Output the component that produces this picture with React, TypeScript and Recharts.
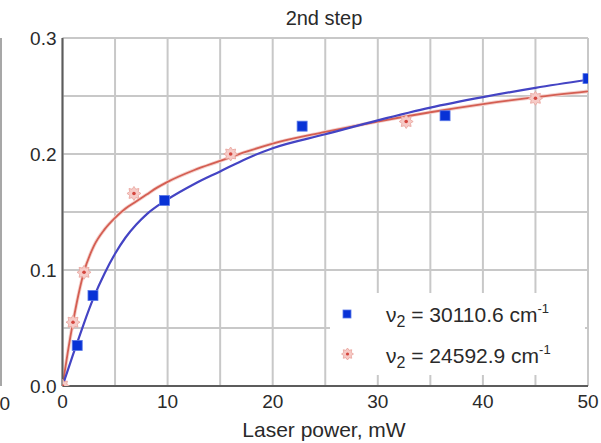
import React from 'react';
import { ComposedChart, Line, Scatter, XAxis, YAxis, CartesianGrid } from 'recharts';

const xTicks = [0, 5, 10, 15, 20, 25, 30, 35, 40, 45, 50];
const yTicks = [0, 0.05, 0.1, 0.15, 0.2, 0.25, 0.3];

const blueX = [1.4, 2.9, 9.7, 22.8, 36.4, 50];
const blueY = [0.035, 0.078, 0.16, 0.224, 0.233, 0.265];
const redX = [0, 1.0, 2.05, 6.8, 16, 32.7, 45];
const redY = [0, 0.055, 0.098, 0.166, 0.2, 0.228, 0.248];

const fitX = [0, 0.5, 1, 1.5, 2, 3, 4, 5, 6, 7, 8, 9, 10, 12.5, 15, 17.5, 20, 25, 30, 35, 40, 45, 50];
const blueFitY = [0, 0.0135, 0.027, 0.04, 0.053, 0.077, 0.097, 0.114, 0.128, 0.139, 0.148, 0.155, 0.161, 0.174, 0.185, 0.196, 0.205, 0.217, 0.229, 0.24, 0.249, 0.257, 0.264];
const redFitY = [0, 0.029, 0.055, 0.078, 0.097, 0.121, 0.135, 0.145, 0.153, 0.159, 0.165, 0.171, 0.176, 0.186, 0.194, 0.202, 0.209, 0.219, 0.228, 0.236, 0.243, 0.249, 0.254];

const legendLabels = ['30110.6', '24592.9'];

const bluePts = blueX.map((x, i) => ({ x, y: blueY[i] }));
const redPts = redX.map((x, i) => ({ x, y: redY[i] }));
const blueFit = fitX.map((x, i) => ({ x, y: blueFitY[i] }));
const redFit = fitX.map((x, i) => ({ x, y: redFitY[i] }));

const FONT = '"Liberation Sans", Arial, Helvetica, sans-serif';
const TXT = '#2a2a2a';
const BLUE = '#0832d6';

const starPoints = (cx: number, cy: number, ro: number, ri: number, n: number) => {
  const pts: string[] = [];
  for (let k = 0; k < n * 2; k++) {
    const r = k % 2 === 0 ? ro : ri;
    const a = (Math.PI * k) / n - Math.PI / 2;
    pts.push(`${cx + r * Math.cos(a)},${cy + r * Math.sin(a)}`);
  }
  return pts.join(' ');
};

const BlueSquare = (props: any) => {
  const { cx, cy } = props;
  if (cx == null || cy == null) return null;
  return <rect x={cx - 5} y={cy - 5} width={10} height={10} fill={BLUE} stroke="#5a78e8" strokeWidth={0.8} />;
};

const RedStar = (props: any) => {
  const { cx, cy } = props;
  if (cx == null || cy == null) return null;
  return (
    <g>
      <polygon points={starPoints(cx, cy, 7, 4.6, 8)} fill="#f6cbc7" stroke="#e9a29b" strokeWidth={0.8} />
      <circle cx={cx} cy={cy} r={1.8} fill="#d4463e" />
    </g>
  );
};

const fmtX = (v: number) => (v % 10 === 0 ? String(v) : '');
const fmtY = (v: number) => (Math.round(v * 100) % 10 === 0 ? v.toFixed(1) : '');

const tickStyle = { fill: TXT, fontSize: 19, fontFamily: FONT };
const frame = { stroke: '#5c5c5c', strokeWidth: 2 };

export default function App() {
  return (
    <div style={{ position: 'absolute', left: 0, top: 0, width: 601, height: 443, background: '#fff' }}>
      <ComposedChart width={601} height={443} margin={{ top: 38, right: 13, bottom: 0, left: 0 }}>
        <CartesianGrid stroke="#c8c8c8" strokeWidth={2} />
        <XAxis
          type="number"
          dataKey="x"
          domain={[0, 50]}
          ticks={xTicks}
          tickFormatter={fmtX}
          height={57}
          tickSize={0}
          tickMargin={9}
          tickLine={false}
          axisLine={frame}
          tick={tickStyle}
          allowDataOverflow
        />
        <XAxis xAxisId="top" orientation="top" type="number" domain={[0, 50]} height={0} tick={false} tickLine={false} axisLine={frame} />
        <YAxis
          type="number"
          dataKey="y"
          domain={[0, 0.3]}
          ticks={yTicks}
          tickFormatter={fmtY}
          width={62.5}
          tickSize={0}
          tickMargin={6}
          tickLine={false}
          axisLine={frame}
          tick={tickStyle}
          allowDataOverflow
        />
        <YAxis yAxisId="right" orientation="right" type="number" domain={[0, 0.3]} width={0} tick={false} tickLine={false} axisLine={frame} />
        <Line data={redFit} dataKey="y" type="monotone" dot={false} activeDot={false} stroke="#f5d3cf" strokeWidth={3.6} isAnimationActive={false} />
        <Line data={redFit} dataKey="y" type="monotone" dot={false} activeDot={false} stroke="#d45e52" strokeWidth={1.8} isAnimationActive={false} />
        <Line data={blueFit} dataKey="y" type="monotone" dot={false} activeDot={false} stroke="#4444c4" strokeWidth={2.2} isAnimationActive={false} />
        <Scatter data={redPts} dataKey="y" shape={RedStar} isAnimationActive={false} />
        <Scatter data={bluePts} dataKey="y" shape={BlueSquare} isAnimationActive={false} />
      </ComposedChart>
      <svg width={601} height={443} style={{ position: 'absolute', left: 0, top: 0, pointerEvents: 'none' }}>
        <line x1={1} y1={38} x2={1} y2={386} stroke="#8a8a8a" strokeWidth={1.5} />
        <text x={10} y={410} textAnchor="end" fontSize={19} fontFamily={FONT} fill={TXT}>0</text>
        <text x={324} y={25} textAnchor="middle" fontSize={20} fontFamily={FONT} fill={TXT}>2nd step</text>
        <text x={324} y={437} textAnchor="middle" fontSize={21} fontFamily={FONT} fill={TXT}>Laser power, mW</text>
        <rect x={330} y={293} width={255} height={82} fill="#fff" />
        <rect x={343} y={310} width={8} height={8} fill={BLUE} stroke="#5a78e8" strokeWidth={0.8} />
        <polygon points={starPoints(347.5, 354, 6, 4, 8)} fill="#f6cbc7" stroke="#e9a29b" strokeWidth={0.8} />
        <circle cx={347.5} cy={354} r={1.6} fill="#d4463e" />
        {legendLabels.map((lab, i) => (
          <text key={lab} x={386} y={322 + i * 41} fontSize={21} fontFamily={FONT} fill={TXT}>
            ν<tspan fontSize={16} dy={5}>2</tspan>
            <tspan dy={-5}> = {lab} cm</tspan>
            <tspan fontSize={13} dy={-9}>-1</tspan>
          </text>
        ))}
      </svg>
    </div>
  );
}
